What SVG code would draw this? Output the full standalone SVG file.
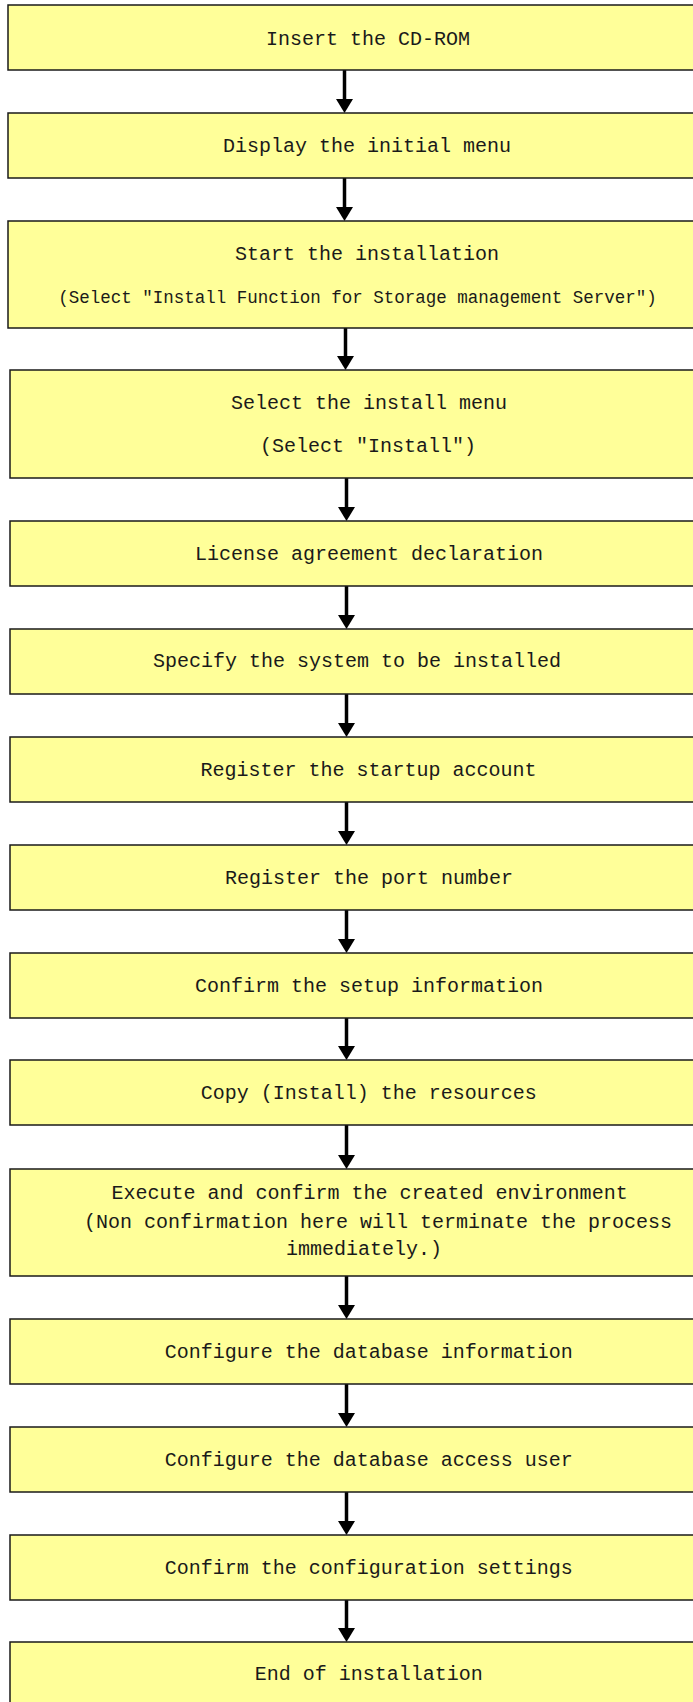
<svg xmlns="http://www.w3.org/2000/svg" width="693" height="1702" viewBox="0 0 693 1702">
<defs>
<style>
.box{fill:#FFFF99;stroke:#1a1a1a;stroke-width:1.5}
.t{font-family:"Liberation Mono","DejaVu Sans Mono",monospace;font-size:20px;fill:#1a1a1a;text-anchor:middle}
.s{font-size:17.5px}
.ln{stroke:#000;stroke-width:3.5;fill:none}
.hd{fill:#000}
</style>
</defs>
<rect width="693" height="1702" fill="#fff"/>
<g id="connectors">
<line class="ln" x1="344.5" y1="70" x2="344.5" y2="100"/><polygon class="hd" points="336,99 353,99 344.5,113"/>
<line class="ln" x1="344.5" y1="178" x2="344.5" y2="208"/><polygon class="hd" points="336,207 353,207 344.5,221"/>
<line class="ln" x1="345.5" y1="328" x2="345.5" y2="357"/><polygon class="hd" points="337,356 354,356 345.5,370"/>
<line class="ln" x1="346.5" y1="478" x2="346.5" y2="508"/><polygon class="hd" points="338,507 355,507 346.5,521"/>
<line class="ln" x1="346.5" y1="586" x2="346.5" y2="616"/><polygon class="hd" points="338,615 355,615 346.5,629"/>
<line class="ln" x1="346.5" y1="694" x2="346.5" y2="724"/><polygon class="hd" points="338,723 355,723 346.5,737"/>
<line class="ln" x1="346.5" y1="802" x2="346.5" y2="832"/><polygon class="hd" points="338,831 355,831 346.5,845"/>
<line class="ln" x1="346.5" y1="910" x2="346.5" y2="940"/><polygon class="hd" points="338,939 355,939 346.5,953"/>
<line class="ln" x1="346.5" y1="1018" x2="346.5" y2="1047"/><polygon class="hd" points="338,1046 355,1046 346.5,1060"/>
<line class="ln" x1="346.5" y1="1125" x2="346.5" y2="1156"/><polygon class="hd" points="338,1155 355,1155 346.5,1169"/>
<line class="ln" x1="346.5" y1="1276" x2="346.5" y2="1306"/><polygon class="hd" points="338,1305 355,1305 346.5,1319"/>
<line class="ln" x1="346.5" y1="1384" x2="346.5" y2="1414"/><polygon class="hd" points="338,1413 355,1413 346.5,1427"/>
<line class="ln" x1="346.5" y1="1492" x2="346.5" y2="1522"/><polygon class="hd" points="338,1521 355,1521 346.5,1535"/>
<line class="ln" x1="346.5" y1="1600" x2="346.5" y2="1629"/><polygon class="hd" points="338,1628 355,1628 346.5,1642"/>
</g>
<g id="n1"><rect class="box" x="8" y="5" width="740" height="65"/><text class="t" x="368" y="45">Insert the CD-ROM</text></g>
<g id="n2"><rect class="box" x="8" y="113" width="740" height="65"/><text class="t" x="367" y="152">Display the initial menu</text></g>
<g id="n3"><rect class="box" x="8" y="221" width="740" height="107"/><text class="t" x="367" y="260">Start the installation</text><text class="t s" x="357.5" y="302.5">(Select ″Install Function for Storage management Server″)</text></g>
<g id="n4"><rect class="box" x="10" y="370" width="740" height="108"/><text class="t" x="369" y="409">Select the install menu</text><text class="t" x="368" y="452">(Select ″Install″)</text></g>
<g id="n5"><rect class="box" x="10" y="521" width="740" height="65"/><text class="t" x="369" y="560">License agreement declaration</text></g>
<g id="n6"><rect class="box" x="10" y="629" width="740" height="65"/><text class="t" x="357" y="667">Specify the system to be installed</text></g>
<g id="n7"><rect class="box" x="10" y="737" width="740" height="65"/><text class="t" x="368.5" y="776">Register the startup account</text></g>
<g id="n8"><rect class="box" x="10" y="845" width="740" height="65"/><text class="t" x="369" y="884">Register the port number</text></g>
<g id="n9"><rect class="box" x="10" y="953" width="740" height="65"/><text class="t" x="369" y="992">Confirm the setup information</text></g>
<g id="n10"><rect class="box" x="10" y="1060" width="740" height="65"/><text class="t" x="368.7" y="1098.5">Copy (Install) the resources</text></g>
<g id="n11"><rect class="box" x="10" y="1169" width="740" height="107"/><text class="t" x="369.6" y="1199">Execute and confirm the created environment</text><text class="t" x="378" y="1227.5">(Non confirmation here will terminate the process</text><text class="t" x="364" y="1255">immediately.)</text></g>
<g id="n12"><rect class="box" x="10" y="1319" width="740" height="65"/><text class="t" x="368.7" y="1358">Configure the database information</text></g>
<g id="n13"><rect class="box" x="10" y="1427" width="740" height="65"/><text class="t" x="368.7" y="1466">Configure the database access user</text></g>
<g id="n14"><rect class="box" x="10" y="1535" width="740" height="65"/><text class="t" x="368.7" y="1574">Confirm the configuration settings</text></g>
<g id="n15"><rect class="box" x="10" y="1642" width="740" height="80"/><text class="t" x="368.7" y="1680">End of installation</text></g>
</svg>
